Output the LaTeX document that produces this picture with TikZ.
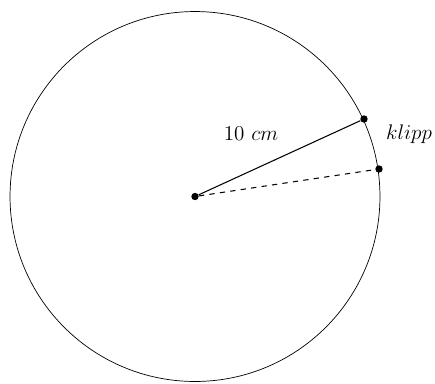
\documentclass[tikz,border=0pt]{standalone}
\usepackage{amsmath,amssymb}
\usepackage{tikz}
\usetikzlibrary{arrows.meta, positioning}

\begin{document}
\begin{tikzpicture}[
      x=0.02cm, y=-0.02cm,
      dot/.style={circle, fill=black, inner sep=0pt, minimum size=4.2pt},
      lbl/.style={font=\large, inner sep=1pt}
  ]
      \useasboundingbox (0,0) rectangle (435,383);
      % Circle
      \coordinate (o) at (195,196.5);
      \draw[thin] (o) circle[radius=3.7cm];
      
      % Points
      \node[dot] (ctr) at (o) {};
      \node[dot] (pa) at (364,119) {};
      \node[dot] (pb) at (379,169) {};
      
      \draw[semithick] (ctr) -- (pa);
      \draw[dashed, semithick] (ctr) -- (pb);
      
      % Labels
      \node[lbl] (len) at (251,134) {10 $cm$};
      \node[lbl, anchor=west] (cut) at (384,134) {$klipp$};

  \end{tikzpicture}
\end{document}
